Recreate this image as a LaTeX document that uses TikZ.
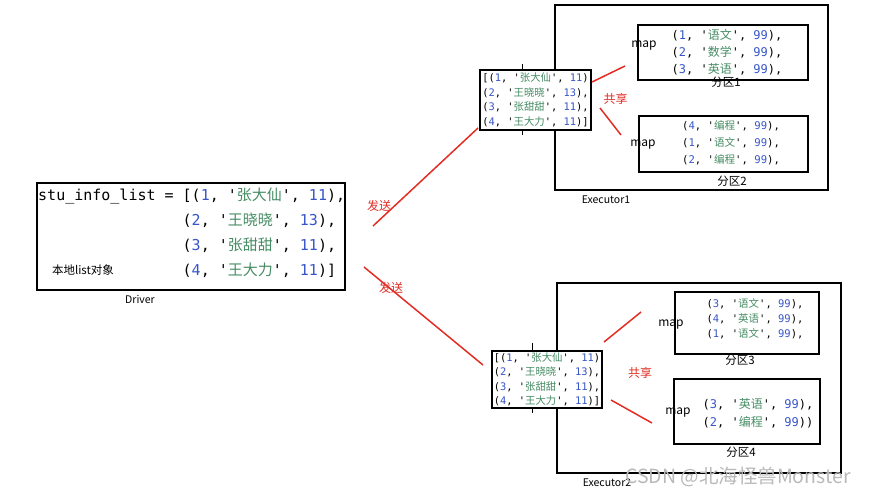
\documentclass[tikz,border=0pt]{standalone}
\usepackage{fontspec}
\setmainfont{Noto Sans CJK SC}
\setmonofont{DejaVu Sans Mono}
\usepackage{xcolor}
\usepackage{tikz}
\definecolor{numblue}{RGB}{55,85,200}
\definecolor{strgreen}{RGB}{70,140,100}
\definecolor{sendred}{RGB}{225,45,35}
\newcommand\nb[1]{\textcolor{numblue}{#1}}
\newcommand\zh[1]{\textcolor{strgreen}{\rmfamily #1}}
\newcommand\tup[3]{(\nb{#1}, '\zh{#2}', \nb{#3})}

\begin{document}
\begin{tikzpicture}[x=1pt, y=-1pt,
    frame/.style = {draw, line width=1.8pt, inner sep=0pt},
    listbox/.style = {frame, fill=white, align=left, inner sep=1pt, font=\ttfamily\fontsize{10.4}{14.5}\selectfont},
    rows/.style = {align=left, inner sep=0pt},
    tag/.style = {inner sep=0pt, font=\fontsize{10.5}{12}\selectfont},
    redtag/.style = {inner sep=0pt, text=sendred, font=\fontsize{12}{14}\selectfont},
    redline/.style = {draw=sendred, line width=1.5pt}]
    \useasboundingbox (0,0) rectangle (874,496);

    \node[frame, minimum width=308, minimum height=107] (driver) at (191,236.5) {};
    \node[rows, anchor=north west, font=\ttfamily\fontsize{15}{25}\selectfont] (drvcode) at (38,188)
      {stu\_info\_list = [\tup{1}{张大仙}{11},\\
       \phantom{stu\_info\_list\ =\ }\tup{2}{王晓晓}{13},\\
       \phantom{stu\_info\_list\ =\ }\tup{3}{张甜甜}{11},\\
       \phantom{stu\_info\_list\ =\ }\tup{4}{王大力}{11}]};
    \node[tag, font=\fontsize{11.5}{13}\selectfont] (local) at (83,270) {本地list对象};
    \node[tag] (drvname) at (140,299) {Driver};

    \node[frame, minimum width=273, minimum height=185] (exec1) at (691.5,97.5) {};
    \node[frame, minimum width=284, minimum height=190] (exec2) at (699,378) {};
    \node[tag] (exec1name) at (606,200) {Executor1};
    \node[tag] (exec2name) at (607,483) {Executor2};

    \node[listbox, minimum width=111, minimum height=60] (list1) at (535.5,100)
      {[\tup{1}{张大仙}{11}\\\tup{2}{王晓晓}{13},\\\tup{3}{张甜甜}{11},\\\tup{4}{王大力}{11}]};
    \node[listbox, minimum width=110, minimum height=57] (list2) at (547,379.5)
      {[\tup{1}{张大仙}{11}\\\tup{2}{王晓晓}{13},\\\tup{3}{张甜甜}{11},\\\tup{4}{王大力}{11}]};
    \draw ([xshift=-13.5]list1.north) -- ++(0,-5);
    \draw ([xshift=-13.5]list1.south) -- ++(0,4);
    \draw ([xshift=-15]list2.north) -- ++(0,-7);
    \draw ([xshift=-15]list2.south) -- ++(0,4);

    \node[frame, minimum width=170, minimum height=55] (part1) at (723,52.5) {};
    \node[frame, minimum width=169, minimum height=56] (part2) at (723.5,144) {};
    \node[frame, minimum width=144, minimum height=62] (part3) at (747,323) {};
    \node[frame, minimum width=146, minimum height=65] (part4) at (747,411.5) {};

    \node[rows, font=\ttfamily\fontsize{12}{17}\selectfont] (rows1) at (727,52)
      {\tup{1}{语文}{99},\\\tup{2}{数学}{99},\\\tup{3}{英语}{99},};
    \node[rows, font=\ttfamily\fontsize{10.6}{17}\selectfont] (rows2) at (731,143)
      {\tup{4}{编程}{99},\\\tup{1}{语文}{99},\\\tup{2}{编程}{99},};
    \node[rows, font=\ttfamily\fontsize{10.5}{15}\selectfont] (rows3) at (755,319)
      {\tup{3}{语文}{99},\\\tup{4}{英语}{99},\\\tup{1}{语文}{99},};
    \node[rows, font=\ttfamily\fontsize{12}{18}\selectfont] (rows4) at (758,413)
      {\tup{3}{英语}{99},\\\tup{2}{编程}{99})};

    \node[tag, font=\fontsize{12}{14}\selectfont] (map1) at (644,46) {map};
    \node[tag, font=\fontsize{12}{14}\selectfont] (map2) at (643,145) {map};
    \node[tag, font=\fontsize{12}{14}\selectfont] (map3) at (671,325) {map};
    \node[tag, font=\fontsize{12}{14}\selectfont] (map4) at (678,413) {map};
    \node[tag, font=\fontsize{11.5}{13}\selectfont] (part1name) at (726,82) {分区1};
    \node[tag, font=\fontsize{11.5}{13}\selectfont] (part2name) at (732,181) {分区2};
    \node[tag, font=\fontsize{11.5}{13}\selectfont] (part3name) at (740,360) {分区3};
    \node[tag, font=\fontsize{11.5}{13}\selectfont] (part4name) at (741,452) {分区4};

    \coordinate (send1a) at (373,226);
    \coordinate (send1b) at (478,128);
    \coordinate (send2a) at (364,267);
    \coordinate (send2b) at (483,365);
    \coordinate (share1a) at (592,82);
    \coordinate (share1b) at (625,66);
    \coordinate (share1c) at (600,108);
    \coordinate (share1d) at (621,135);
    \coordinate (share2a) at (604,342);
    \coordinate (share2b) at (641,312);
    \coordinate (share2c) at (611,400);
    \coordinate (share2d) at (652,423);
    \draw[redline] (send1a) -- (send1b);
    \draw[redline] (send2a) -- (send2b);
    \draw[redline] (share1a) -- (share1b);
    \draw[redline] (share1c) -- (share1d);
    \draw[redline] (share2a) -- (share2b);
    \draw[redline] (share2c) -- (share2d);
    \node[redtag] (send1) at (379,206) {发送};
    \node[redtag] (send2) at (391,288) {发送};
    \node[redtag] (share1) at (615.5,99) {共享};
    \node[redtag] (share2) at (640,373) {共享};

    \node[inner sep=0pt, text=gray!55, font=\fontsize{19.5}{21}\selectfont] (mark) at (738,477) {CSDN @北海怪兽Monster};
\end{tikzpicture}
\end{document}
